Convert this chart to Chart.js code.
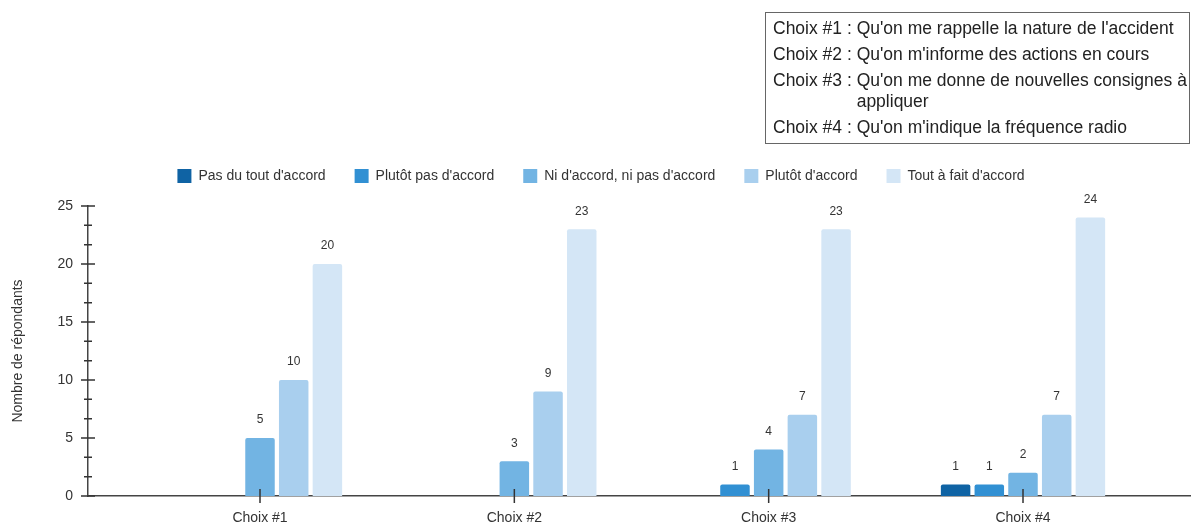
<!DOCTYPE html>
<html lang="fr">
<head>
<meta charset="utf-8">
<title>Nombre de répondants par choix</title>
<script src="https://cdn.jsdelivr.net/npm/chart.js@4"></script>
<style>
  html, body { margin: 0; padding: 0; background: #fff; }
  #wrap { position: relative; width: 1192px; height: 525px; }
  #legende-choix {
    position: absolute; left: 765px; top: 12px; width: 423px; height: 125px;
    border: 1.5px solid #666; box-sizing: content-box;
    font-family: 'Liberation Sans', Arial, sans-serif; font-size: 17.5px; color: #222;
    line-height: 21px; padding-top: 5px;
  }
  #legende-choix .ligne { display: flex; margin: 0 0 5px 7px; }
  #legende-choix .num { white-space: pre; }
  #legende-choix .txt { width: 333px; }
</style>
</head>
<body>
<div id="wrap">
  <canvas id="graphique"></canvas>
  <div id="legende-choix"></div>
</div>
<script>
// Réponses par choix et par niveau d'accord
const categories = ['Choix #1', 'Choix #2', 'Choix #3', 'Choix #4'];
const descriptions = [
  "Qu'on me rappelle la nature de l'accident",
  "Qu'on m'informe des actions en cours",
  "Qu'on me donne de nouvelles consignes à appliquer",
  "Qu'on m'indique la fréquence radio"
];
const niveaux = [
  "Pas du tout d'accord",
  "Plutôt pas d'accord",
  "Ni d'accord, ni pas d'accord",
  "Plutôt d'accord",
  "Tout à fait d'accord"
];
const pasDuTout = [0, 0, 0, 1];
const plutotPas = [0, 0, 1, 1];
const niNi = [5, 3, 4, 2];
const plutotAccord = [10, 9, 7, 7];
const toutAFait = [20, 23, 23, 24];
const couleurs = ['#0f63a4', '#3190d3', '#72b4e3', '#a9cfee', '#d4e6f6'];
const yMax = 25;
const yMajor = 5;

const series = [pasDuTout, plutotPas, niNi, plutotAccord, toutAFait];

// encadré des libellés de choix
document.getElementById('legende-choix').innerHTML = categories
  .map((c, i) => `<div class="ligne"><span class="num">${c} : </span><span class="txt">${descriptions[i]}</span></div>`)
  .join('');

Chart.defaults.font.family = "'Liberation Sans', Arial, sans-serif";
Chart.defaults.font.size = 14;
Chart.defaults.color = '#333';

const estMajeur = v => Math.abs(v / yMajor - Math.round(v / yMajor)) < 1e-6;

// petites graduations qui traversent les axes
const graduations = {
  id: 'graduations',
  afterDraw(chart) {
    const { ctx } = chart;
    const x = chart.scales.x;
    const y = chart.scales.y;
    ctx.save();
    ctx.strokeStyle = '#333';
    ctx.lineWidth = 1.5;
    ctx.beginPath();
    y.ticks.forEach((t, i) => {
      const py = y.getPixelForTick(i);
      const d = estMajeur(t.value) ? 7 : 4;
      ctx.moveTo(y.right - d, py);
      ctx.lineTo(y.right + d, py);
    });
    x.ticks.forEach((t, i) => {
      const px = x.getPixelForTick(i);
      ctx.moveTo(px, x.top - 7);
      ctx.lineTo(px, x.top + 7);
    });
    ctx.stroke();
    ctx.restore();
  }
};

// valeurs au-dessus des barres
const valeurs = {
  id: 'valeurs',
  afterDatasetsDraw(chart) {
    const { ctx } = chart;
    ctx.save();
    ctx.font = "12px 'Liberation Sans', Arial, sans-serif";
    ctx.fillStyle = '#333';
    ctx.textAlign = 'center';
    ctx.textBaseline = 'middle';
    chart.data.datasets.forEach((ds, i) => {
      chart.getDatasetMeta(i).data.forEach((barre, j) => {
        const v = ds.data[j].y;
        if (v > 0) ctx.fillText(String(v), barre.x, barre.y - 18);
      });
    });
    ctx.restore();
  }
};

// espace supplémentaire sous la légende
const espaceLegende = {
  id: 'espaceLegende',
  beforeInit(chart) {
    const fitOrig = chart.legend.fit;
    chart.legend.fit = function fit() {
      fitOrig.call(chart.legend);
      this.height += 13;
    };
  }
};

new Chart(document.getElementById('graphique'), {
  type: 'bar',
  data: {
    datasets: series.map((valeursSerie, i) => ({
      label: niveaux[i],
      data: valeursSerie.map((v, j) => ({ x: j + 1, y: v })),
      backgroundColor: couleurs[i],
      borderWidth: 0,
      borderRadius: 2,
      borderSkipped: 'start',
      categoryPercentage: 0.6625,
      barPercentage: 0.875
    }))
  },
  options: {
    responsive: true,
    maintainAspectRatio: false,
    animation: false,
    layout: { padding: { top: 140, right: 2, bottom: 0, left: 12 } },
    plugins: {
      legend: {
        position: 'top',
        labels: { boxWidth: 14, boxHeight: 14, padding: 29, color: '#333' }
      },
      tooltip: { enabled: false }
    },
    scales: {
      x: {
        type: 'linear',
        offset: false,
        min: 0.3237,
        max: 4.6566,
        grid: { display: false, drawTicks: false },
        border: { color: '#444', width: 1.5 },
        afterFit: scale => { scale.height = 29; },
        ticks: {
          stepSize: 1,
          includeBounds: false,
          autoSkip: false,
          maxRotation: 0,
          padding: 14,
          callback: v => categories[v - 1] ?? ''
        }
      },
      y: {
        min: 0,
        max: yMax,
        grid: { display: false, drawTicks: false },
        border: { color: '#444', width: 1.5 },
        afterFit: scale => { scale.width = 76; },
        ticks: {
          stepSize: yMajor / 3,
          autoSkip: false,
          padding: 15,
          callback: v => (estMajeur(v) ? Math.round(v) : '')
        },
        title: {
          display: true,
          text: 'Nombre de répondants',
          color: '#333',
          padding: { top: -2, bottom: 4 }
        }
      }
    }
  },
  plugins: [graduations, valeurs, espaceLegende]
});
</script>
</body>
</html>
